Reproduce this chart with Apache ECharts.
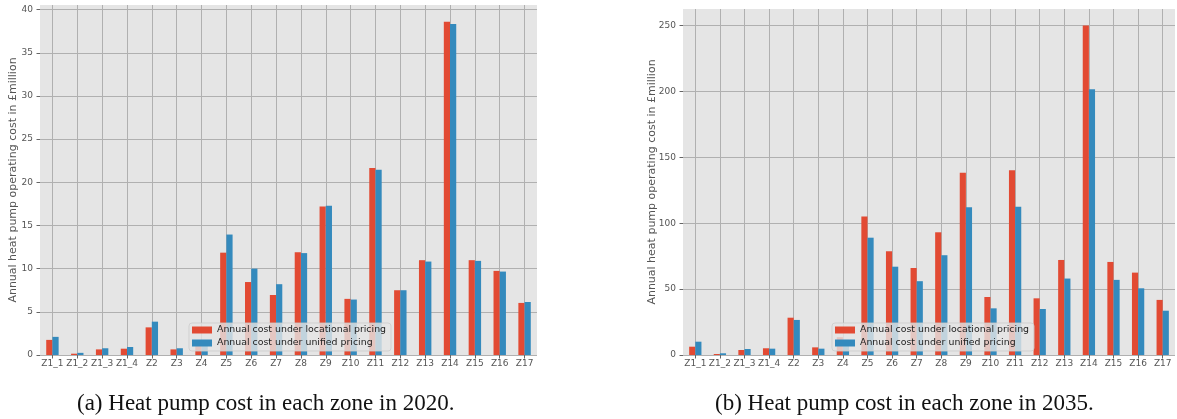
<!DOCTYPE html>
<html>
<head>
<meta charset="utf-8">
<script src="https://cdn.jsdelivr.net/npm/echarts@6/dist/echarts.min.js"></script>
<style>
  html, body { margin: 0; padding: 0; background: #ffffff; }
  #chart { width: 1177px; height: 419px; }
</style>
</head>
<body>
<div id="chart"></div>
<script>
// Zones
const zones = ['Z1_1', 'Z1_2', 'Z1_3', 'Z1_4', 'Z2', 'Z3', 'Z4', 'Z5', 'Z6', 'Z7',
               'Z8', 'Z9', 'Z10', 'Z11', 'Z12', 'Z13', 'Z14', 'Z15', 'Z16', 'Z17'];

// Annual heat pump operating cost (£million), 2020
const locational2020 = [1.75, 0.15, 0.65, 0.73, 3.2, 0.65, 1.1, 11.85, 8.45, 6.95,
                        11.9, 17.2, 6.5, 21.65, 7.5, 10.98, 38.6, 10.98, 9.74, 6.03];
const unified2020    = [2.1, 0.25, 0.78, 0.93, 3.86, 0.78, 1.2, 13.95, 10.0, 8.2,
                        11.8, 17.28, 6.42, 21.45, 7.5, 10.82, 38.34, 10.9, 9.66, 6.14];

// Annual heat pump operating cost (£million), 2035
const locational2035 = [6.3, 0.75, 3.8, 5.1, 28.3, 5.8, 13.5, 105, 78.7, 66,
                        93.1, 138.2, 44, 140.2, 43, 72.1, 250, 70.6, 62.5, 41.8];
const unified2035    = [10.1, 1.3, 4.55, 4.8, 26.6, 4.8, 11.5, 89, 67, 56,
                        75.7, 112.1, 35.4, 112.4, 34.9, 58, 201.7, 57, 50.6, 33.6];

const seriesNames = ['Annual cost under locational pricing', 'Annual cost under unified pricing'];
const captions = ['(a) Heat pump cost in each zone in 2020.', '(b) Heat pump cost in each zone in 2035.'];
const yAxisTitle = 'Annual heat pump operating cost in £million';

const RED = '#E24A33';
const BLUE = '#348ABD';
const GRID_LINE = '#b0b0b0';
const TEXT = '#555555';

function xAxisFor(gridIndex) {
  return {
    type: 'category',
    gridIndex: gridIndex,
    data: zones,
    boundaryGap: true,
    axisLine: { show: false },
    axisTick: { show: true, alignWithLabel: true, length: 3.5, lineStyle: { color: '#666' } },
    axisLabel: { color: TEXT, fontSize: 9, fontFamily: 'DejaVu Sans', margin: 4, interval: 0 },
    splitLine: { show: true, alignWithLabel: true, lineStyle: { color: GRID_LINE, width: 1 } }
  };
}

function yAxisFor(gridIndex, max, interval, gap) {
  return {
    type: 'value',
    gridIndex: gridIndex,
    min: 0,
    max: max,
    interval: interval,
    name: yAxisTitle,
    nameLocation: 'middle',
    nameRotate: 90,
    nameGap: gap,
    nameMoveOverlap: false,
    nameTextStyle: { color: TEXT, fontSize: 11, fontFamily: 'DejaVu Sans' },
    axisLine: { show: false },
    axisTick: { show: true, length: 3.5, lineStyle: { color: '#666' } },
    axisLabel: { color: TEXT, fontSize: 9, fontFamily: 'DejaVu Sans', margin: 7, showMaxLabel: false },
    splitLine: { show: true, showMaxLine: false, lineStyle: { color: GRID_LINE, width: 1 } }
  };
}

function barSeries(name, data, color, axisIndex) {
  return {
    type: 'bar',
    name: name,
    data: data,
    xAxisIndex: axisIndex,
    yAxisIndex: axisIndex,
    barWidth: '25%',
    barGap: '0%',
    itemStyle: { color: color },
    emphasis: { disabled: true },
    animation: false
  };
}

function legendAt(left, top) {
  return {
    orient: 'vertical',
    left: left,
    top: top,
    data: seriesNames,
    icon: 'rect',
    itemWidth: 20,
    itemHeight: 7,
    itemGap: 1,
    padding: [1, 5, 2, 3],
    backgroundColor: 'rgba(229,229,229,0.8)',
    borderColor: 'rgba(204,204,204,0.8)',
    borderWidth: 1,
    borderRadius: 3,
    selectedMode: false,
    textStyle: { color: '#222', fontSize: 9.4, fontFamily: 'DejaVu Sans', lineHeight: 12 }
  };
}

const chart = echarts.init(document.getElementById('chart'), null, { renderer: 'canvas' });

chart.setOption({
  animation: false,
  backgroundColor: '#ffffff',
  grid: [
    { left: 40, top: 5, width: 497, height: 350, show: true, backgroundColor: '#E5E5E5', borderWidth: 0 },
    { left: 683, top: 9, width: 492, height: 346, show: true, backgroundColor: '#E5E5E5', borderWidth: 0 }
  ],
  xAxis: [xAxisFor(0), xAxisFor(1)],
  yAxis: [yAxisFor(0, 40.53, 5, 21), yAxisFor(1, 262.5, 50, 25)],
  legend: [legendAt(189, 323), legendAt(832, 323)],
  series: [
    barSeries(seriesNames[0], locational2020, RED, 0),
    barSeries(seriesNames[1], unified2020, BLUE, 0),
    barSeries(seriesNames[0], locational2035, RED, 1),
    barSeries(seriesNames[1], unified2035, BLUE, 1)
  ],
  graphic: [
    {
      type: 'text', left: 77, top: 392,
      style: { text: captions[0], fill: '#111', font: '23px "Liberation Serif"' }
    },
    {
      type: 'text', left: 715, top: 392,
      style: { text: captions[1], fill: '#111', font: '23px "Liberation Serif"' }
    }
  ]
});
</script>
</body>
</html>
